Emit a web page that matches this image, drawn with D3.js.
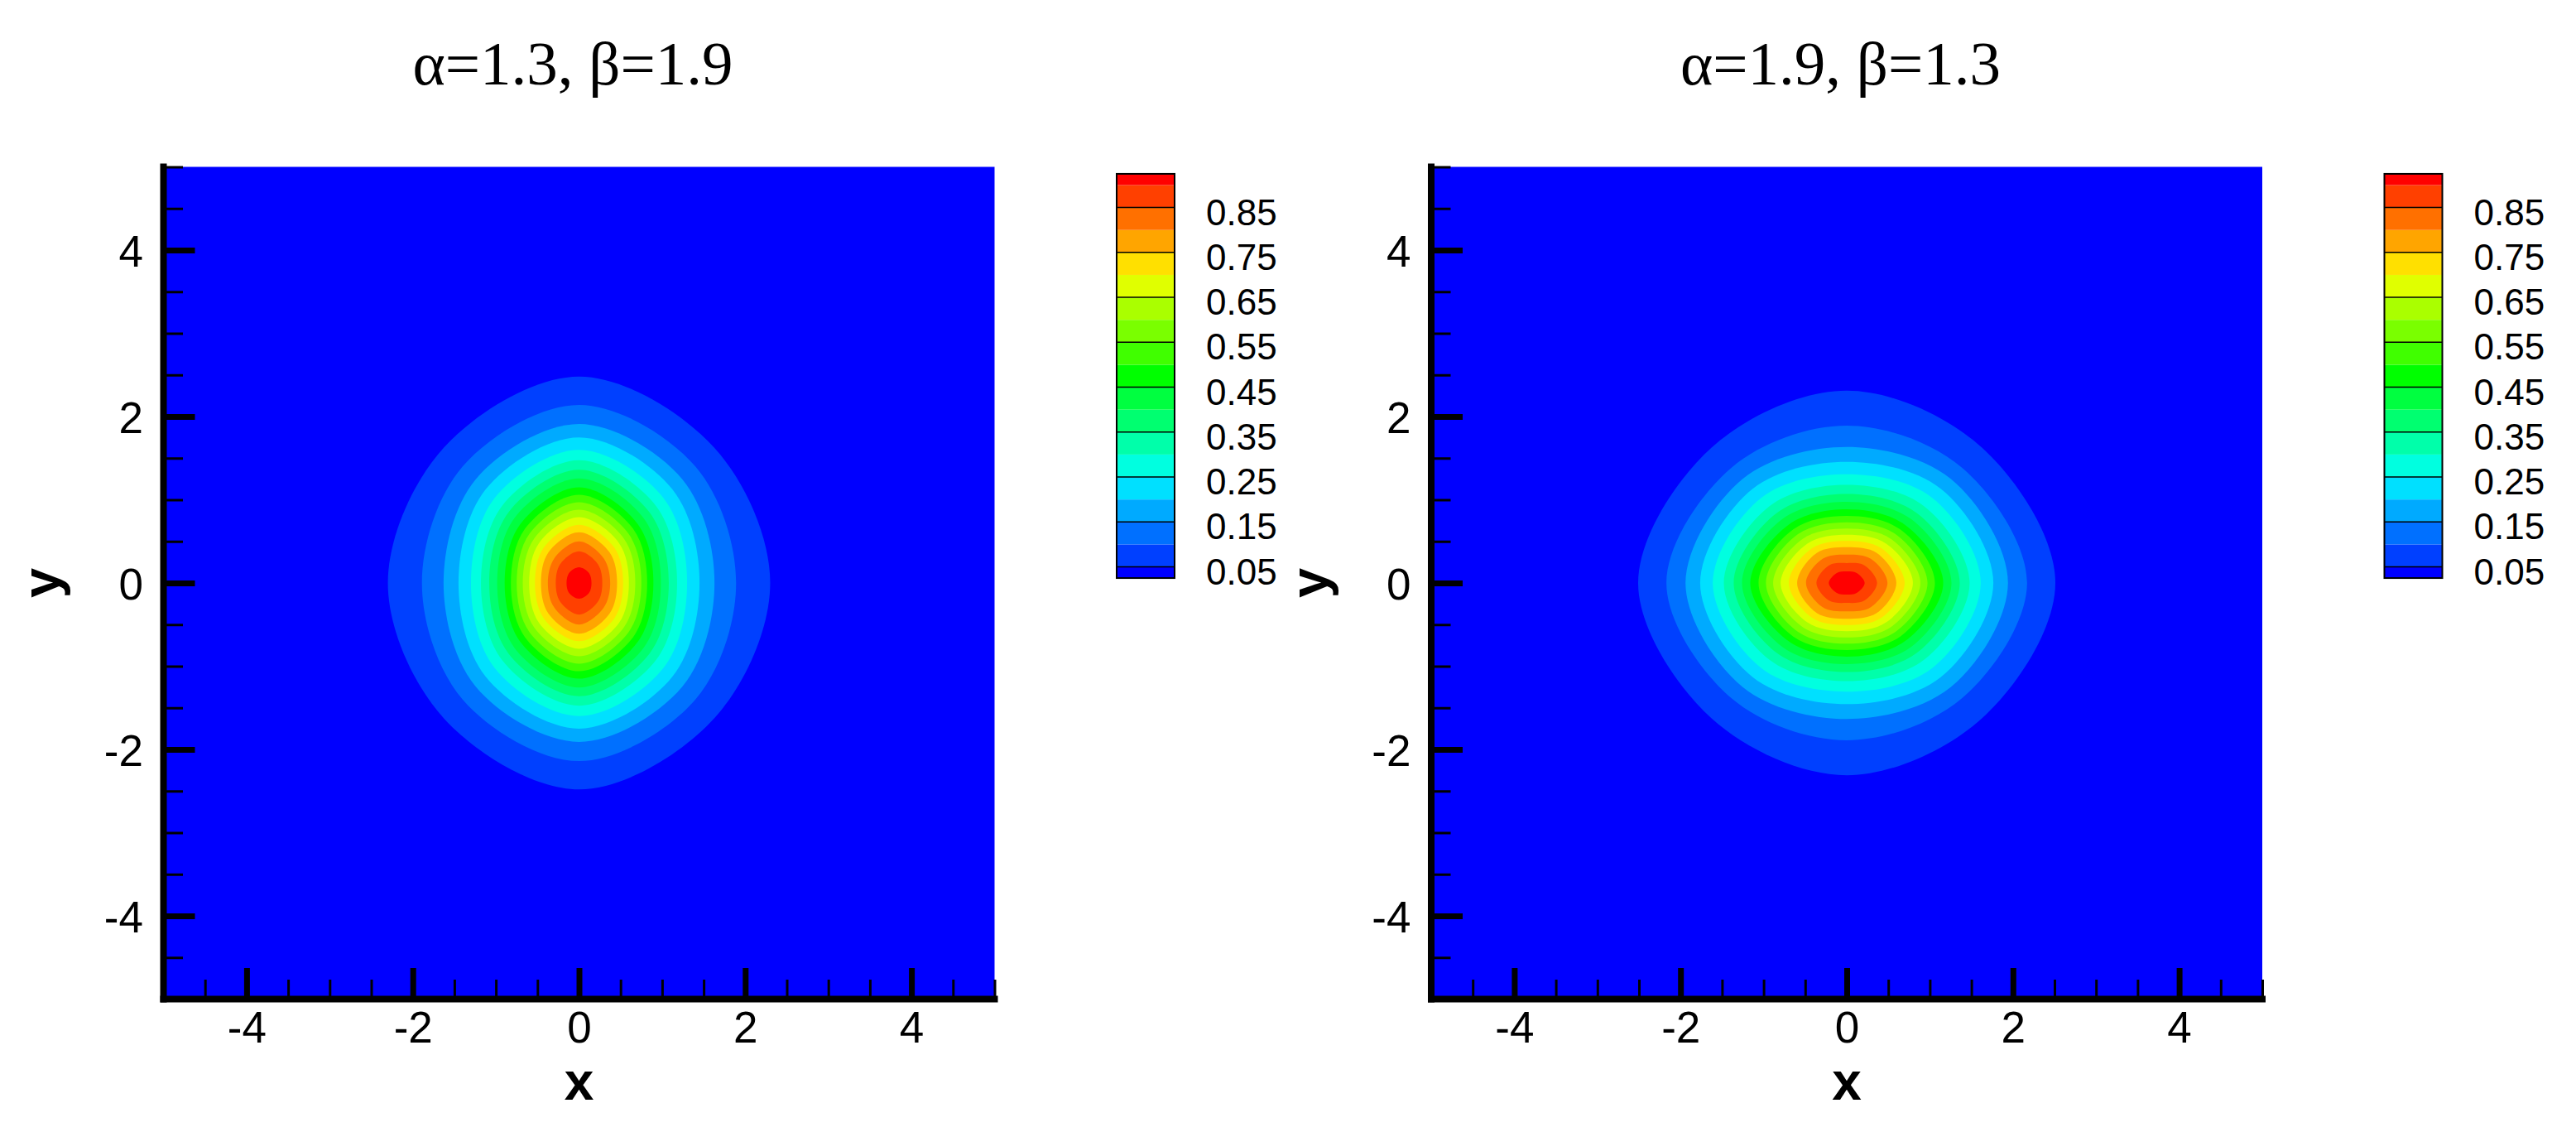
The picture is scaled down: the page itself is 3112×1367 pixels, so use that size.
<!DOCTYPE html>
<html>
<head>
<meta charset="utf-8">
<script src="https://cdn.jsdelivr.net/npm/d3@7/dist/d3.min.js"></script>
<style>
  body { margin: 0; background: #fff; }
  text { fill: #000; }
</style>
</head>
<body>
<div id="chart"></div>
<script>
// contour levels and Tecplot-like band colours (below first level ... above last)
var levels = [0.05, 0.10, 0.15, 0.20, 0.25, 0.30, 0.35, 0.40, 0.45,
              0.50, 0.55, 0.60, 0.65, 0.70, 0.75, 0.80, 0.85, 0.90];
var bandColors = ["#0000FF", "#0040FF", "#0070FF", "#00AAFF", "#00E0FF", "#00FFE0",
                  "#00FFAA", "#00FF70", "#00FF40", "#00FF00", "#40FF00", "#7AFF00",
                  "#AAFF00", "#E0FF00", "#FFE000", "#FFA500", "#FF7000", "#FF4000", "#FF0000"];
var legendLabels = [0.05, 0.15, 0.25, 0.35, 0.45, 0.55, 0.65, 0.75, 0.85];

var majorTicks = [-4, -2, 0, 2, 4];
var minorTicks = [-5, -4.5, -3.5, -3, -2.5, -1.5, -1, -0.5, 0.5, 1, 1.5, 2.5, 3, 3.5, 4.5, 5];

var titles = ["\u03b1=1.3, \u03b2=1.9", "\u03b1=1.9, \u03b2=1.3"];

// contour half-widths (x direction, y direction, 45 deg diagonal)
var leftRx = [2.30, 1.89, 1.63, 1.45, 1.30, 1.18, 1.08, 0.985, 0.895, 0.82, 0.75, 0.677, 0.60, 0.53, 0.458, 0.375, 0.28, 0.15];
var leftRy = [2.48, 2.14, 1.91, 1.75, 1.60, 1.475, 1.36, 1.255, 1.15, 1.06, 0.97, 0.88, 0.79, 0.70, 0.61, 0.50, 0.38, 0.19];
var leftRd = [2.30, 1.98, 1.76, 1.59, 1.44, 1.31, 1.20, 1.10, 1.00, 0.92, 0.84, 0.76, 0.68, 0.60, 0.52, 0.42, 0.32, 0.17];

var rightRx = [2.51, 2.17, 1.94, 1.764, 1.612, 1.479, 1.36, 1.26, 1.161, 1.061, 0.972, 0.886, 0.796, 0.697, 0.597, 0.49, 0.365, 0.216];
var rightRy = [2.31, 1.89, 1.635, 1.455, 1.305, 1.18, 1.07, 0.975, 0.885, 0.805, 0.73, 0.655, 0.58, 0.505, 0.43, 0.34, 0.24, 0.14];
var rightRd = [2.30, 1.96, 1.77, 1.60, 1.45, 1.31, 1.19, 1.09, 0.99, 0.91, 0.83, 0.75, 0.67, 0.59, 0.51, 0.41, 0.30, 0.17];

var width = 3112;
var height = 1367;

var svg = d3.select("#chart")
            .append("svg")
            .attr("width", width)
            .attr("height", height);

svg.append("rect").attr("width", width).attr("height", height).attr("fill", "#fff");

var panels = [
  {dx: 0, title: titles[0], rx: leftRx, ry: leftRy, rd: leftRd},
  {dx: 1531.5, title: titles[1], rx: rightRx, ry: rightRy, rd: rightRd}
];

var sansFont = "'Liberation Sans', Arial, Helvetica, sans-serif";
var serifFont = "'Liberation Serif', 'Times New Roman', Times, serif";

panels.forEach(function(p, idx) {
  var g = svg.append("g");

  var x = d3.scaleLinear().domain([-5, 5]).range([197.5 + p.dx, 1201.5 + p.dx]);
  var y = d3.scaleLinear().domain([-5, 5]).range([1206.5, 201.5]);

  // background band (below lowest level)
  g.append("rect")
   .attr("x", x(-5)).attr("y", y(5))
   .attr("width", x(5) - x(-5)).attr("height", y(-5) - y(5))
   .attr("fill", bandColors[0]);

  var clipId = "clip" + idx;
  g.append("clipPath").attr("id", clipId)
   .append("rect")
   .attr("x", x(-5)).attr("y", y(5))
   .attr("width", x(5) - x(-5)).attr("height", y(-5) - y(5));

  // closed contour curves, outermost first
  var line = d3.line()
               .x(function(d) { return x(d[0]); })
               .y(function(d) { return y(d[1]); })
               .curve(d3.curveCatmullRomClosed.alpha(0.5));

  var shapes = levels.map(function(lv, i) {
    var pts = d3.range(8).map(function(k) {
      var a = k * Math.PI / 4;
      var r = (k % 2 === 1) ? p.rd[i] : (k % 4 === 0 ? p.rx[i] : p.ry[i]);
      return [r * Math.cos(a), r * Math.sin(a)];
    });
    return {pts: pts, color: bandColors[i + 1]};
  });

  g.append("g").attr("clip-path", "url(#" + clipId + ")")
   .selectAll("path")
   .data(shapes)
   .enter()
   .append("path")
   .attr("d", function(d) { return line(d.pts); })
   .attr("fill", function(d) { return d.color; });

  // axes: ticks point into the plot
  var bottomMinor = g.append("g")
                     .attr("transform", "translate(0," + y(-5) + ")")
                     .call(d3.axisBottom(x).tickValues(minorTicks).tickSize(-23.5).tickFormat(""));
  var bottomMajor = g.append("g")
                     .attr("transform", "translate(0," + y(-5) + ")")
                     .call(d3.axisBottom(x).tickValues(majorTicks).tickSize(-37.5).tickPadding(15)
                                           .tickFormat(function(d) { return String(d); }));
  var leftMinor = g.append("g")
                   .attr("transform", "translate(" + x(-5) + ",0)")
                   .call(d3.axisLeft(y).tickValues(minorTicks).tickSize(-23.5).tickFormat(""));
  var leftMajor = g.append("g")
                   .attr("transform", "translate(" + x(-5) + ",0)")
                   .call(d3.axisLeft(y).tickValues(majorTicks).tickSize(-38).tickPadding(24.5)
                                       .tickFormat(function(d) { return String(d); }));

  [bottomMinor, bottomMajor, leftMinor, leftMajor].forEach(function(a) {
    a.select(".domain").remove();
    a.selectAll("line").attr("stroke", "#000");
  });
  [bottomMinor, leftMinor].forEach(function(a) { a.selectAll("line").attr("stroke-width", 3); });
  [bottomMajor, leftMajor].forEach(function(a) {
    a.selectAll("line").attr("stroke-width", 7);
    a.selectAll("text")
     .attr("font-family", sansFont)
     .attr("font-size", 53)
     .attr("fill", "#000");
  });
  leftMajor.selectAll("text").attr("dy", "0.36em");

  // thick axis lines
  g.append("line")
   .attr("x1", x(-5)).attr("x2", x(-5))
   .attr("y1", y(5) - 4).attr("y2", y(-5) + 4)
   .attr("stroke", "#000").attr("stroke-width", 8);
  g.append("line")
   .attr("x1", x(-5) - 4).attr("x2", x(5) + 4)
   .attr("y1", y(-5)).attr("y2", y(-5))
   .attr("stroke", "#000").attr("stroke-width", 8);

  // axis titles
  g.append("text")
   .attr("x", x(0)).attr("y", 1328)
   .attr("text-anchor", "middle")
   .attr("font-family", sansFont).attr("font-weight", "bold").attr("font-size", 64)
   .text("x");
  g.append("text")
   .attr("transform", "translate(" + (72 + p.dx) + "," + y(0) + ") rotate(-90)")
   .attr("text-anchor", "middle")
   .attr("font-family", sansFont).attr("font-weight", "bold").attr("font-size", 65)
   .text("y");

  // panel title
  g.append("text")
   .attr("x", 692 + p.dx).attr("y", 102)
   .attr("text-anchor", "middle")
   .attr("font-family", serifFont).attr("font-size", 75)
   .text(p.title);

  // colour legend
  var ly = d3.scaleLinear().domain([levels[0], levels[levels.length - 1]]).range([684.5, 223.5]);
  var half = (levels[1] - levels[0]) / 2;
  var edges = [levels[0] - half].concat(levels, [levels[levels.length - 1] + half]);
  var lx = 1349 + p.dx;
  var lw = 70;

  var legend = g.append("g");
  legend.selectAll("rect.band")
        .data(bandColors)
        .enter()
        .append("rect")
        .attr("class", "band")
        .attr("x", lx)
        .attr("y", function(d, i) { return ly(edges[i + 1]); })
        .attr("width", lw)
        .attr("height", function(d, i) { return ly(edges[i]) - ly(edges[i + 1]); })
        .attr("fill", function(d) { return d; });

  legend.selectAll("line.lev")
        .data(legendLabels)
        .enter()
        .append("line")
        .attr("class", "lev")
        .attr("x1", lx).attr("x2", lx + lw)
        .attr("y1", function(d) { return ly(d); })
        .attr("y2", function(d) { return ly(d); })
        .attr("stroke", "#000").attr("stroke-width", 1.5);

  legend.append("rect")
        .attr("x", lx).attr("y", ly(edges[edges.length - 1]))
        .attr("width", lw).attr("height", ly(edges[0]) - ly(edges[edges.length - 1]))
        .attr("fill", "none").attr("stroke", "#000").attr("stroke-width", 2);

  legend.selectAll("text")
        .data(legendLabels)
        .enter()
        .append("text")
        .attr("x", 1457 + p.dx)
        .attr("y", function(d) { return ly(d) + 21; })
        .attr("font-family", sansFont).attr("font-size", 44)
        .text(function(d) { return d.toFixed(2); });
});
</script>
</body>
</html>
